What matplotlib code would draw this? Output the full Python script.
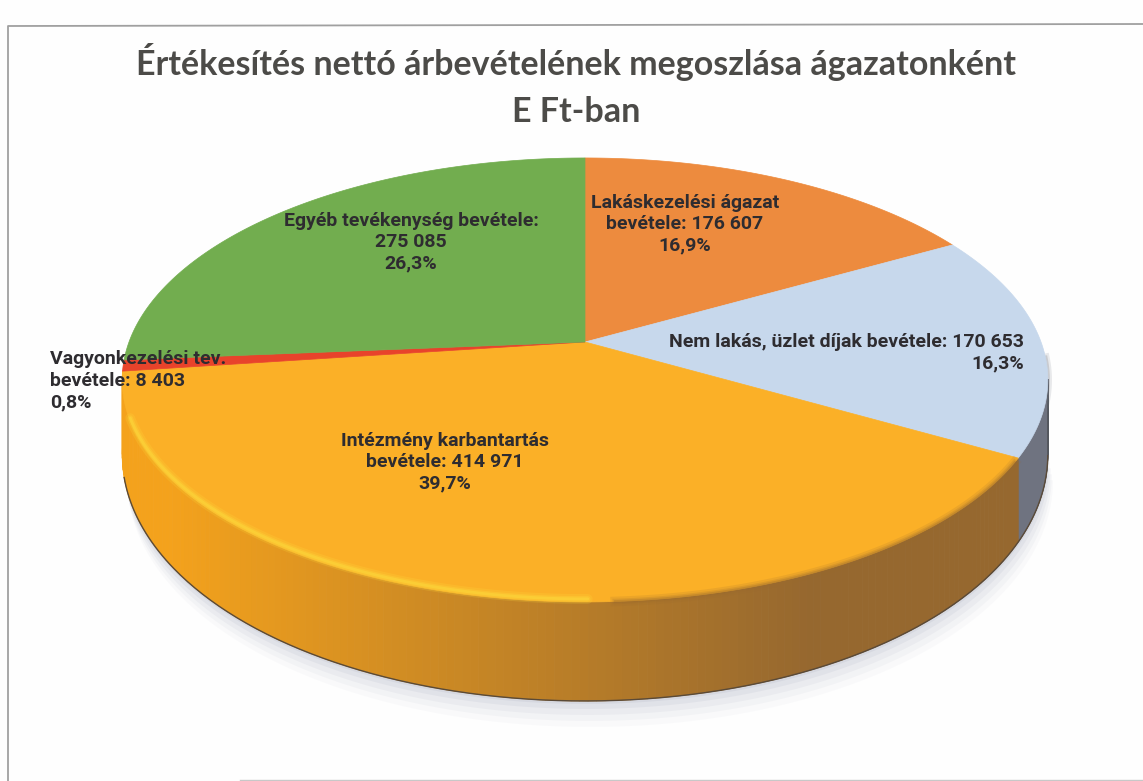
import numpy as np
import matplotlib
matplotlib.use('Agg')
import matplotlib.pyplot as plt
from matplotlib.collections import PolyCollection
from matplotlib.colors import to_rgb
from matplotlib.patches import Polygon

title_lines = ['Értékesítés nettó árbevételének megoszlása ágazatonként', 'E Ft-ban']
labels = ['Lakáskezelési ágazat\nbevétele: 176 607\n16,9%',
          'Nem lakás, üzlet díjak bevétele: 170 653\n16,3%',
          'Intézmény karbantartás\nbevétele: 414 971\n39,7%',
          'Vagyonkezelési tev.\nbevétele: 8 403\n0,8%',
          'Egyéb tevékenység bevétele:\n275 085\n26,3%']
values = [176607, 170653, 414971, 8403, 275085]
colors = ['#ed8b3e', '#c7d8ec', '#fbb027', '#e8432b', '#72ad4f']
side_dark = ['#b5652a', '#6f7380', '#96682f', '#b02c1c', '#4f7d36']

# pixel geometry of the tilted disc
cx, cy = 585, 342
rx, ry = 456, 215.5
persp = 0.171
depth = 99

def project(ang):
    # ang in radians, clockwise from 12 o'clock
    u, v = np.sin(ang), np.cos(ang)
    w = 1 + persp * v
    return cx + rx * u / w, cy - ry * v / w

def rim_depth(ang):
    # the side looks thinner towards the left and right
    return depth * (0.7 + 0.3 * -np.cos(ang))

fig = plt.figure(figsize=(11.43, 7.81), dpi=100, facecolor='#fefefe')
ax = fig.add_axes([0, 0, 1, 1])
ax.set_xlim(0, 1143)
ax.set_ylim(781, 0)
ax.axis('off')

# frame of the chart
ax.plot([8, 8, 1143], [781, 26, 24], color='#a0a0a0', lw=1.3)
ax.plot([240, 1143], [780, 780], color='#c8c8c8', lw=1)

fracs = np.array(values) / sum(values)
edges = np.concatenate([[0], np.cumsum(fracs)]) * 2 * np.pi

# the visible part of the rim starts at the widest point of the ellipse
t_right = np.arccos(-persp)
t_left = 2 * np.pi - t_right

# soft shadow under the disc
t = np.linspace(t_right, t_left, 200)
px, py = project(t)
for off, a in zip([26, 20, 14, 8, 3], [0.04, 0.06, 0.08, 0.10, 0.12]):
    ax.add_patch(Polygon(np.c_[px + off * 0.2, py + rim_depth(t) + off],
                         fc='#8f93ad', ec='none', alpha=a, zorder=1))

# rim of the disc
for i in range(len(values)):
    t = np.linspace(max(edges[i], t_right), min(edges[i + 1], t_left), 160)
    if t[-1] <= t[0]:
        continue
    x, y = project(t)
    d = rim_depth(t)
    c1 = np.array(to_rgb(side_dark[i]))
    polys, cols = [], []
    for j in range(len(t) - 1):
        polys.append([(x[j], y[j]), (x[j + 1], y[j + 1]),
                      (x[j + 1], y[j + 1] + d[j + 1]), (x[j], y[j] + d[j])])
        # gold slice goes darker towards the right hand side
        s = np.clip((x[j] - 170) / 640, 0, 1)
        c = c1 * s + np.array(to_rgb('#f4a21c')) * (1 - s) if i == 2 else c1
        cols.append(c)
    ax.add_collection(PolyCollection(polys, facecolors=cols, edgecolors=cols,
                                     linewidths=0.6, zorder=2))

# gold side reaches up to the left end of the disc
t = np.linspace(edges[3], t_left, 20)
x, y = project(t)
ax.fill(np.r_[x, x[::-1]], np.r_[y, (y + rim_depth(t))[::-1]], color='#f4a21c', lw=0.5, zorder=2)

# dark line along the bottom and right edge
t = np.linspace(t_right, 4.45, 300)
x, y = project(t)
ax.plot(x, y + rim_depth(t), color='#5a4a38', lw=1.0, zorder=3)
ax.plot([x[0], x[0]], [y[0], y[0] + rim_depth(t[0])], color='#55585f', lw=1.4, zorder=3)

# top faces
for i in range(len(values)):
    t = np.linspace(edges[i], edges[i + 1], 200)
    x, y = project(t)
    pts = np.vstack([[cx, cy], np.c_[x, y]])
    ax.add_patch(Polygon(pts, fc=colors[i], ec=colors[i], lw=0.5, zorder=4))

# bevel: yellow glow on the left, dark blur on the right of the gold slice
t = np.linspace(edges[2] + 1.05, edges[3] - 0.22, 150)
x, y = project(t)
for lw, a in zip([7, 4, 2], [0.2, 0.3, 0.45]):
    ax.plot(x, y - 3, color='#fbdc3c', lw=lw, alpha=a, zorder=5, solid_capstyle='round')
t = np.linspace(edges[2] + 0.02, edges[2] + 1.0, 100)
x, y = project(t)
for lw, a in zip([7, 4, 2], [0.15, 0.2, 0.3]):
    ax.plot(x, y, color='#9a6a2e', lw=lw, alpha=a, zorder=5)

# the blue slice fades into the side at the right
t = np.linspace(t_right - 0.1, edges[2], 30)
x, y = project(t)
for lw, a in zip([6, 3], [0.15, 0.25]):
    ax.plot(x, y, color='#6f7380', lw=lw, alpha=a, zorder=3.5)

ax.text(576, 62, title_lines[0], ha='center', va='center', fontsize=24.5, weight='bold',
        family='Lato', color='#4c4b48', zorder=6)
ax.text(576, 112, title_lines[1], ha='center', va='center', fontsize=24.5, weight='bold',
        family='Lato', color='#4c4b48', zorder=6)

label_pos = [(685, 224, 'center'), (1024, 353, 'right'), (445, 462, 'center'),
             (50, 381, 'left'), (411, 242, 'center')]
for lab, (lx, ly, ha) in zip(labels, label_pos):
    ax.text(lx, ly, lab, ha=ha, va='center', multialignment=ha, fontsize=14,
            weight='bold', family='Roboto', color='#2e2c30', linespacing=1.25, zorder=6)

fig.savefig('out.png', dpi=100, facecolor=fig.get_facecolor())
